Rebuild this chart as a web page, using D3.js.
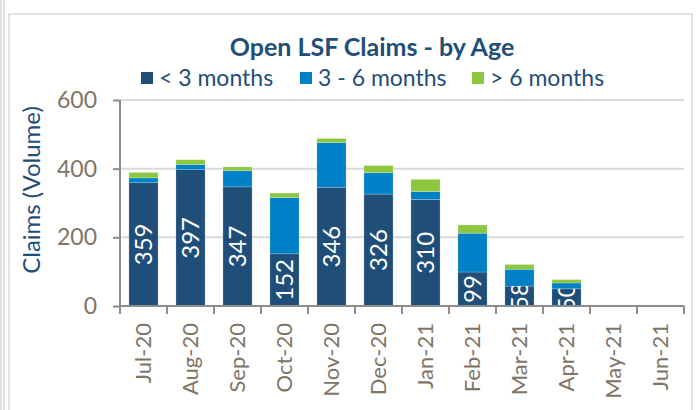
<!DOCTYPE html>
<html>
<head>
<meta charset="utf-8">
<script src="https://cdn.jsdelivr.net/npm/d3@7"></script>
<style>
  body { margin: 0; background: #fff; }
  svg { display: block; font-family: Lato, "Open Sans", sans-serif; }
</style>
</head>
<body>
<div id="chart"></div>
<script>
// data
const months = ["Jul-20", "Aug-20", "Sep-20", "Oct-20", "Nov-20", "Dec-20",
                "Jan-21", "Feb-21", "Mar-21", "Apr-21", "May-21", "Jun-21"];
const under3 = [359, 397, 347, 152, 346, 326, 310, 99, 58, 50, 0, 0];
const from3to6 = [14, 15, 47, 164, 130, 62, 23, 113, 49, 17, 0, 0];
const over6 = [16, 14, 11, 13, 12, 21, 36, 24, 14, 10, 0, 0];
const seriesNames = ["< 3 months", "3 - 6 months", "> 6 months"];
const yTicks = [0, 200, 400, 600];

const colors = ["#1f4e79", "#0080c6", "#8dc63f"];
const labelColor = "#7f7466";

const W = 696, H = 410;
const margin = {top: 100, right: 12, bottom: 104, left: 120};
const width = W - margin.left - margin.right;
const height = H - margin.top - margin.bottom;

const svg = d3.select("#chart").append("svg")
    .attr("width", W).attr("height", H);

// outer frame
svg.append("rect").attr("x", 1).attr("y", -5).attr("width", 3).attr("height", H + 10)
    .attr("fill", "none").attr("stroke", "#d9d9d9").attr("stroke-width", 1.5);
svg.append("rect").attr("x", 9).attr("y", 14).attr("width", 683).attr("height", H)
    .attr("fill", "none").attr("stroke", "#d9d9d9").attr("stroke-width", 1.5);

const table = months.map((m, i) => ({month: m, a: under3[i], b: from3to6[i], c: over6[i]}));
const stacked = d3.stack().keys(["a", "b", "c"])(table);

const x = d3.scaleBand().domain(months).range([0, width]).paddingInner(0.38).paddingOuter(0.19);
const y = d3.scaleLinear().domain([0, 600]).range([height, 0]);

const g = svg.append("g").attr("transform", `translate(${margin.left},${margin.top})`);

// gridlines
g.append("g").selectAll("line").data(yTicks.filter(d => d > 0)).join("line")
    .attr("x1", 0).attr("x2", width)
    .attr("y1", d => y(d)).attr("y2", d => y(d))
    .attr("stroke", "#d9d9d9").attr("stroke-width", 2);

// clip paths for the dark segments, so labels stay inside
const defs = svg.append("defs");
defs.selectAll("clipPath").data(table).join("clipPath")
    .attr("id", (d, i) => "clip" + i)
    .append("rect")
    .attr("x", d => x(d.month)).attr("width", x.bandwidth())
    .attr("y", d => y(d.a)).attr("height", d => y(0) - y(d.a));

// bars
g.append("g").selectAll("g").data(stacked).join("g")
    .attr("fill", (d, i) => colors[i])
    .selectAll("rect").data(d => d).join("rect")
    .attr("x", d => x(d.data.month))
    .attr("width", x.bandwidth())
    .attr("y", d => y(d[1]))
    .attr("height", d => y(d[0]) - y(d[1]))
    .attr("stroke", "rgba(255,255,255,0.35)")
    .attr("stroke-width", 0.6);

// value labels in the dark segment, each in a clipped group
g.append("g").selectAll("g").data(table.filter(d => d.a > 0)).join("g")
    .attr("clip-path", d => `url(#clip${months.indexOf(d.month)})`)
    .append("text")
    .attr("transform", d => `translate(${x(d.month) + x.bandwidth() / 2},${(y(d.a) + y(0)) / 2}) rotate(-90)`)
    .attr("text-anchor", "middle").attr("dy", "0.36em")
    .attr("fill", "#fff").attr("font-size", 24)
    .text(d => d.a);

// y axis
const yAxis = g.append("g")
    .call(d3.axisLeft(y).tickValues(yTicks).tickSize(7).tickPadding(16));
yAxis.select(".domain").attr("stroke", "#8c8c8c").attr("stroke-width", 2)
    .attr("d", `M0,${height}V0`);
yAxis.selectAll(".tick line").attr("stroke", "#8c8c8c").attr("stroke-width", 2);
yAxis.selectAll(".tick text").attr("fill", labelColor).attr("font-size", 23)
    .attr("font-family", "Lato, sans-serif");

// x axis with ticks at band edges
const xAxis = g.append("g").attr("transform", `translate(0,${height})`)
    .call(d3.axisBottom(x).tickSize(0).tickPadding(12));
xAxis.select(".domain").attr("stroke", "#8c8c8c").attr("stroke-width", 2)
    .attr("d", `M0,0H${width}`);
xAxis.selectAll(".tick text")
    .attr("fill", labelColor).attr("font-size", 22).attr("font-family", "Lato, sans-serif")
    .attr("text-anchor", "end").attr("dy", "0.36em")
    .attr("transform", "rotate(-90)")
    .attr("x", -17).attr("y", 0);
const step = x.step();
xAxis.append("g").selectAll("line").data(d3.range(months.length + 1)).join("line")
    .attr("x1", i => i * step).attr("x2", i => i * step)
    .attr("y1", 0).attr("y2", 8)
    .attr("stroke", "#8c8c8c").attr("stroke-width", 2);

// y axis title
svg.append("text")
    .attr("transform", `translate(31,190) rotate(-90)`)
    .attr("text-anchor", "middle").attr("dy", "0.36em")
    .attr("fill", "#1f4e79").attr("font-size", 24)
    .text("Claims (Volume)");

// title
svg.append("text")
    .attr("x", 372).attr("y", 56)
    .attr("text-anchor", "middle")
    .attr("fill", "#1f4e79").attr("font-size", 25).attr("font-weight", "bold")
    .text("Open LSF Claims - by Age");

// legend
const legendX = [141, 300, 472];
const legend = svg.append("g").selectAll("g").data(seriesNames).join("g")
    .attr("transform", (d, i) => `translate(${legendX[i]},78)`);
legend.append("rect").attr("x", 0).attr("y", -6).attr("width", 12).attr("height", 12)
    .attr("fill", (d, i) => colors[i]);
legend.append("text").attr("x", 18).attr("dy", "0.36em")
    .attr("fill", "#1f4e79").attr("font-size", 23)
    .text(d => d);
</script>
</body>
</html>
